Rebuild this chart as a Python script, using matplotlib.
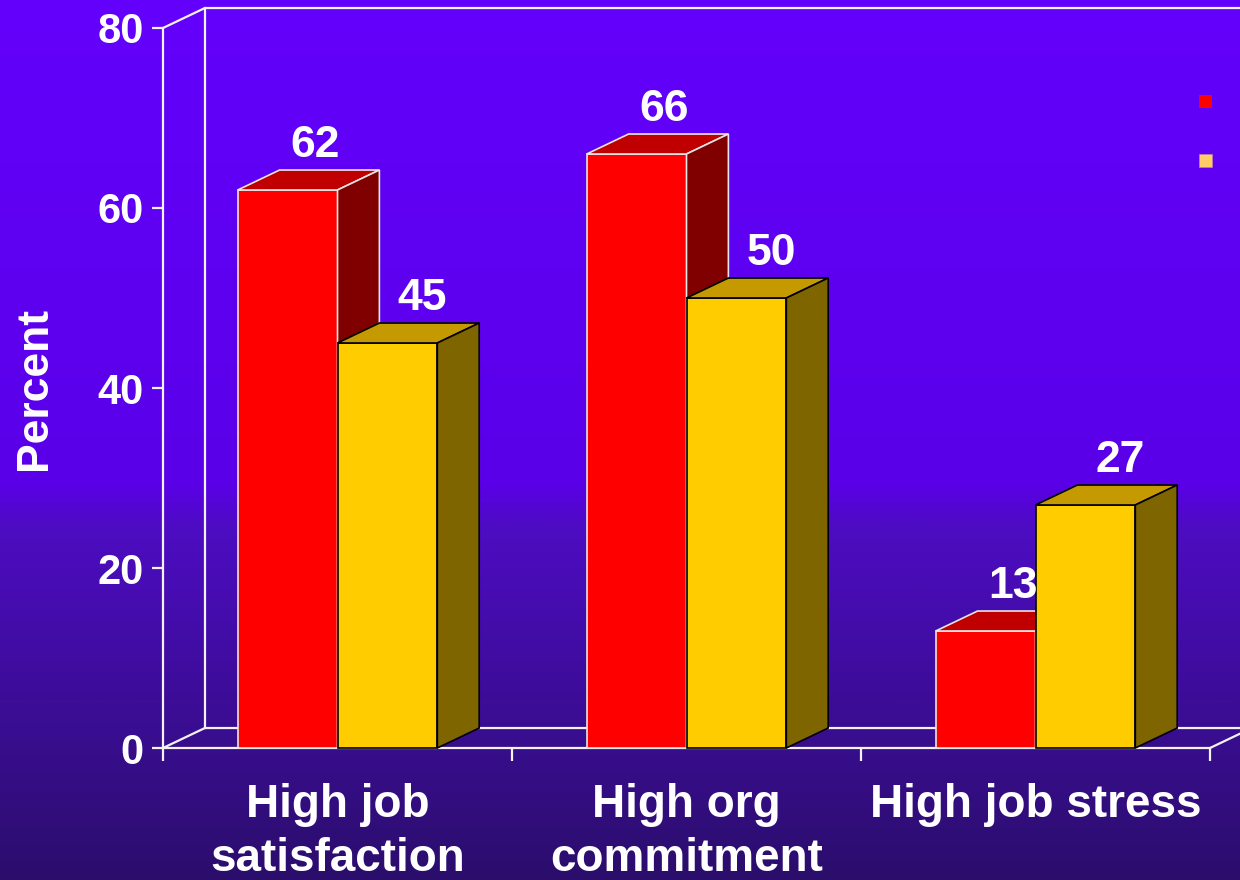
import numpy as np
import matplotlib.pyplot as plt
from matplotlib.patches import Polygon, Rectangle
from matplotlib.colors import LinearSegmentedColormap

categories = ["High job\nsatisfaction", "High org\ncommitment", "High job stress"]
red_values = [62, 66, 13]
yellow_values = [45, 50, 27]
y_ticks = [0, 20, 40, 60, 80]

plt.rcParams['font.family'] = ['Liberation Sans', 'DejaVu Sans']
plt.rcParams['font.weight'] = 'bold'

fig = plt.figure(figsize=(12.4, 8.8), dpi=100)

# background gradient
bg = fig.add_axes([0, 0, 1, 1], zorder=-10)
bg_cmap = LinearSegmentedColormap.from_list(
    "bg", [(0.0, "#6300FC"), (0.55, "#5A00E8"), (0.60, "#4D0CC2"), (1.0, "#2B0E6C")])
grad = np.linspace(0, 1, 400).reshape(-1, 1)
bg.imshow(grad, cmap=bg_cmap, aspect='auto', extent=[0, 1, 0, 1], origin='upper')
bg.set_axis_off()

ax = fig.add_axes([163 / 1240, 132 / 880, 1047 / 1240, 720 / 880])
ax.patch.set_alpha(0)
ax.set_xlim(0, 3)
ax.set_ylim(0, 80)

line_col = '#F2F2F2'
# depth offset of the 3D look (data units)
dx, dy = 0.12, 2.22

for s in ['top', 'right']:
    ax.spines[s].set_visible(False)
for s in ['left', 'bottom']:
    ax.spines[s].set_color(line_col)
    ax.spines[s].set_linewidth(1.6)

# back wall and floor
ax.plot([0, dx, dx, 3.2], [80, 80 + dy, 80 + dy, 80 + dy], color=line_col, lw=1.6, clip_on=False, zorder=1)
ax.plot([dx, dx], [dy, 80 + dy], color=line_col, lw=1.6, clip_on=False, zorder=1)
ax.plot([0, dx, 3.2], [0, dy, dy], color=line_col, lw=1.6, clip_on=False, zorder=1)
ax.plot([3, 3 + dx], [0, dy], color=line_col, lw=1.6, clip_on=False, zorder=1)

w = 0.286


def bar3d(x0, h, front, top, side, edge, z):
    ax.add_patch(Polygon([(x0, 0), (x0 + w, 0), (x0 + w, h), (x0, h)], closed=True,
                         facecolor=front, edgecolor=edge, lw=1.2, zorder=z, clip_on=False))
    ax.add_patch(Polygon([(x0, h), (x0 + w, h), (x0 + w + dx, h + dy), (x0 + dx, h + dy)], closed=True,
                         facecolor=top, edgecolor=edge, lw=1.2, zorder=z, clip_on=False))
    ax.add_patch(Polygon([(x0 + w, 0), (x0 + w + dx, dy), (x0 + w + dx, h + dy), (x0 + w, h)], closed=True,
                         facecolor=side, edgecolor=edge, lw=1.2, zorder=z, clip_on=False))


for i in range(len(categories)):
    c = i + 0.5
    bar3d(c - w, red_values[i], '#FF0000', '#C00000', '#800000', '#E6E6E6', 3 + i * 2)
    bar3d(c, yellow_values[i], '#FFCC00', '#C49A00', '#7F6500', '#000000', 4 + i * 2)
    ax.annotate(str(red_values[i]), (c - w / 2 + dx / 2, red_values[i] + dy),
                xytext=(5, 18), textcoords='offset points', ha='center', va='center',
                color='white', fontsize=32, fontweight='bold', zorder=20)
    ax.annotate(str(yellow_values[i]), (c + w / 2 + dx / 2, yellow_values[i] + dy),
                xytext=(10, 18), textcoords='offset points', ha='center', va='center',
                color='white', fontsize=32, fontweight='bold', zorder=20)

ax.set_yticks(y_ticks)
ax.set_yticklabels([str(t) for t in y_ticks])
ax.tick_params(axis='y', colors=line_col, length=8, width=1.6, pad=6, labelsize=30, labelcolor='white')

ax.set_xticks([0, 1, 2, 3])
ax.set_xticklabels([])
ax.set_xticks([0.5, 1.5, 2.5], minor=True)
ax.set_xticklabels(categories, minor=True, fontsize=33, fontweight='bold', color='white', linespacing=1.3)
ax.tick_params(axis='x', which='major', colors=line_col, length=9, width=1.6)
ax.tick_params(axis='x', which='minor', length=0, pad=25)

ax.set_ylabel("Percent", fontsize=32, fontweight='bold', color='white')
ax.yaxis.set_label_coords(-0.103, 0.5)

# legend markers (legend text is not visible in the source)
fig.patches.append(Rectangle((1199 / 1240, 1 - 108 / 880), 13 / 1240, 13 / 880,
                             transform=fig.transFigure, facecolor='#FF0000', edgecolor='none'))
fig.patches.append(Rectangle((1199 / 1240, 1 - 167 / 880), 13 / 1240, 13 / 880,
                             transform=fig.transFigure, facecolor='#FFCC66', edgecolor='#C080A0', lw=0.5))

fig.savefig("out.png", dpi=100)
